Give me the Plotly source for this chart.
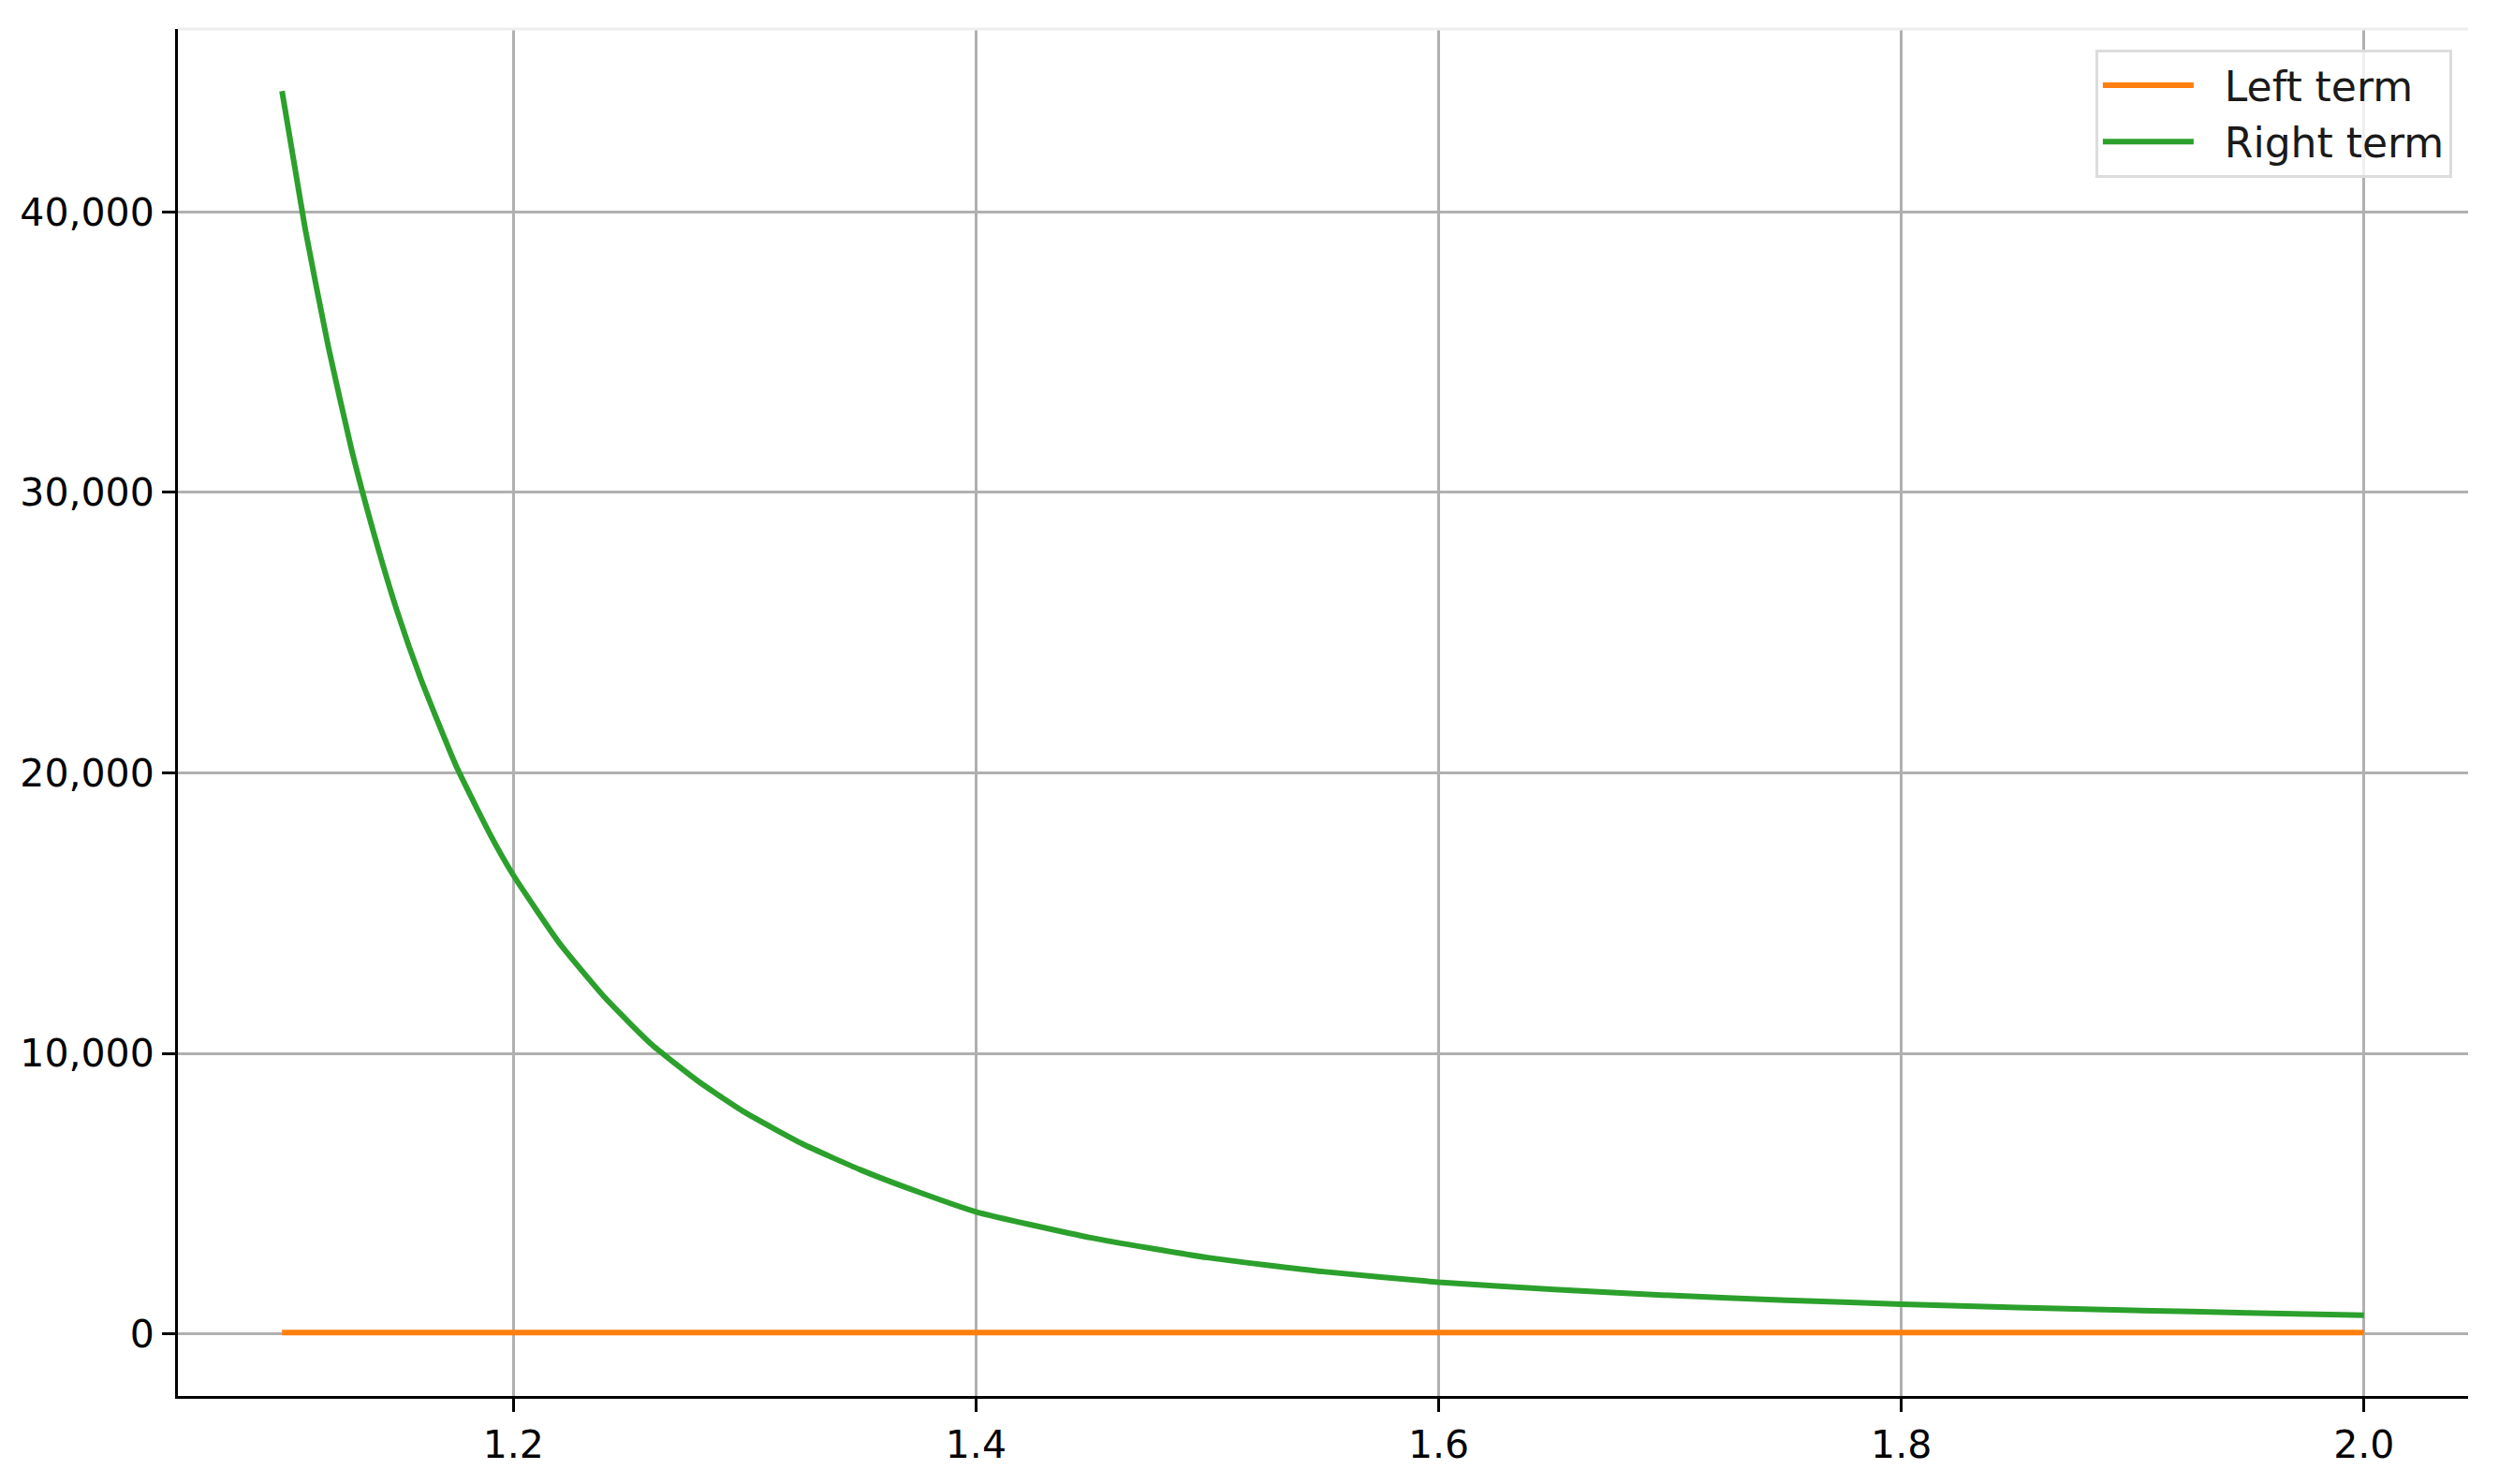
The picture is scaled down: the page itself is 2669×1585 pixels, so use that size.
import plotly.graph_objects as go

# values
x_right = [1.100, 1.110, 1.120, 1.130, 1.140, 1.150, 1.160, 1.175, 1.190,
           1.200, 1.220, 1.240, 1.260, 1.280, 1.300, 1.325, 1.350, 1.375,
           1.400, 1.450, 1.500, 1.550, 1.600, 1.650, 1.700, 1.750, 1.800,
           1.850, 1.900, 1.950, 2.000]
right_term = [44300, 39400, 35200, 31550, 28450, 25700, 23350, 20300, 17800,
              16350, 13920, 11950, 10300, 9000, 7900, 6770, 5850, 5060,
              4350, 3420, 2720, 2220, 1840, 1580, 1370, 1200, 1058,
              940, 840, 748, 667]

x_left = [1.1, 1.2, 1.4, 1.6, 1.8, 2.0]
left_term = [50, 50, 50, 50, 50, 50]

y_ticks = [0, 10000, 20000, 30000, 40000]
x_ticks = [1.2, 1.4, 1.6, 1.8, 2.0]

FONT = "DejaVu Sans"
NB = "\u00a0\u00a0"  # extra gap between legend sample and label

fig = go.Figure()
fig.add_trace(go.Scatter(x=x_left, y=left_term, mode="lines", name=NB + "Left term",
                         line=dict(color="#ff7f0e", width=6)))
fig.add_trace(go.Scatter(x=x_right, y=right_term, mode="lines", name=NB + "Right term",
                         line=dict(color="#2ca02c", width=6, shape="spline", smoothing=0.5)))

axis_common = dict(
    showgrid=True, gridcolor="#b0b0b0", gridwidth=3,
    zeroline=False,
    showline=True, linecolor="black", linewidth=3,
    ticks="outside", ticklen=14, tickwidth=3, tickcolor="black",
    tickfont=dict(family=FONT, size=41, color="black"),
    automargin=False,
)

# page body adds an 8px offset, so the figure is trimmed to fit the window
fig.update_layout(
    width=2661, height=1577,
    margin=dict(l=182, r=33, t=23, b=94),
    paper_bgcolor="white", plot_bgcolor="white",
    font=dict(family=FONT, size=41, color="black"),
    showlegend=True,
    legend=dict(
        x=0.993, y=0.985, xanchor="right", yanchor="top",
        bgcolor="rgba(255,255,255,0.8)", bordercolor="#dcdcdc", borderwidth=3,
        font=dict(family=FONT, size=44, color="#1a1a1a"),
        itemwidth=97,
    ),
    xaxis=dict(range=[1.055, 2.045], tickvals=x_ticks, tickformat=".1f", **axis_common),
    yaxis=dict(range=[-2215, 46515], tickvals=y_ticks, tickformat=",d", **axis_common),
)

# faint top border like the reference
fig.add_shape(type="line", xref="paper", yref="paper", x0=0, x1=1, y0=1, y1=1,
              line=dict(color="#eeeeee", width=3))

fig.write_html("out.html")
